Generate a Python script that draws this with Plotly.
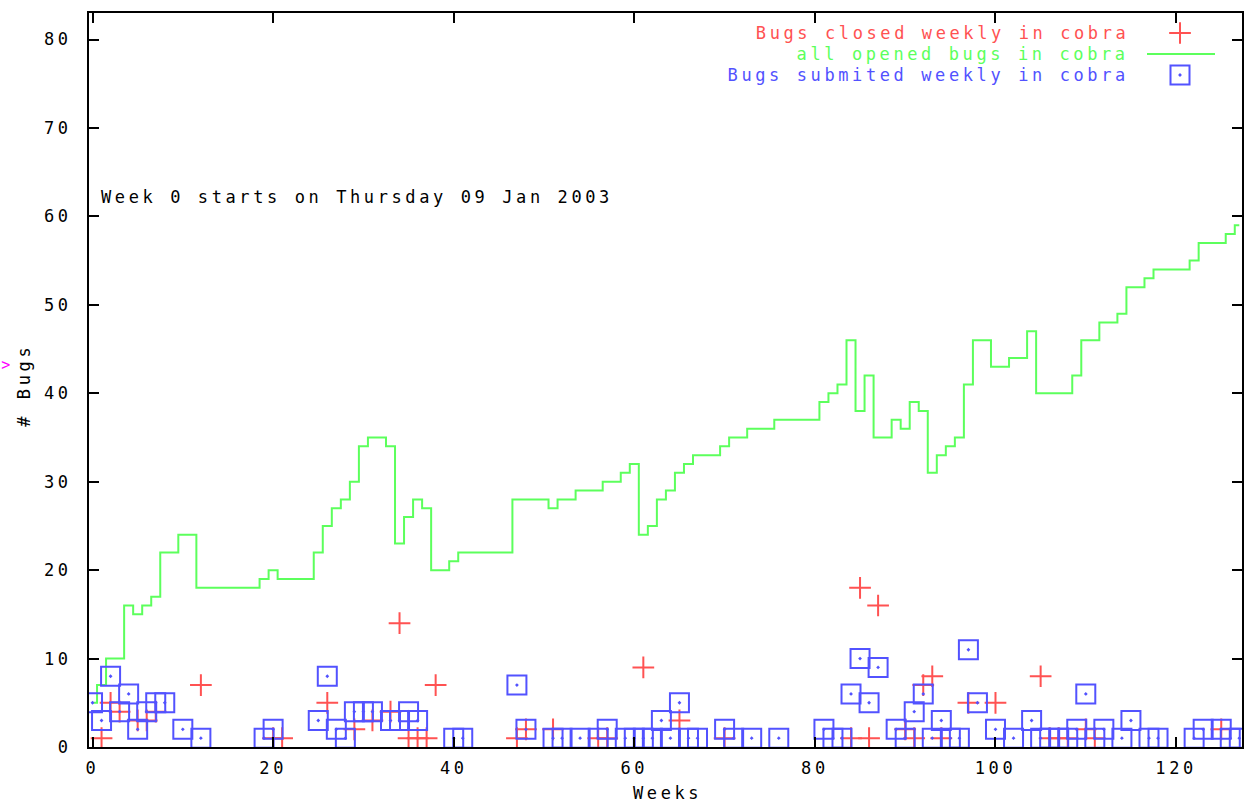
import plotly.graph_objects as go

# ---- data -------------------------------------------------------------
weeks = list(range(128))

# total number of open bugs at the end of each week
opened_bugs = [
    5, 7, 10, 10, 16, 15, 16, 17, 22, 22,
    24, 24, 18, 18, 18, 18, 18, 18, 18, 19,
    20, 19, 19, 19, 19, 22, 25, 27, 28, 30,
    34, 35, 35, 34, 23, 26, 28, 27, 20, 20,
    21, 22, 22, 22, 22, 22, 22, 28, 28, 28,
    28, 27, 28, 28, 29, 29, 29, 30, 30, 31,
    32, 24, 25, 28, 29, 31, 32, 33, 33, 33,
    34, 35, 35, 36, 36, 36, 37, 37, 37, 37,
    37, 39, 40, 41, 46, 38, 42, 35, 35, 37,
    36, 39, 38, 31, 33, 34, 35, 41, 46, 46,
    43, 43, 44, 44, 47, 40, 40, 40, 40, 42,
    46, 46, 48, 48, 49, 52, 52, 53, 54, 54,
    54, 54, 55, 57, 57, 57, 58, 59,
]

# weeks in which bugs were closed, and how many
closed_weeks = [1, 2, 3, 5, 6, 7, 12, 20, 21, 26, 29, 31, 33, 34, 35, 36, 37, 38,
                47, 48, 51, 56, 57, 61, 65, 70, 84, 85, 86, 87, 90, 91, 92, 93,
                94, 97, 100, 105, 106, 107, 108, 110, 111, 125]
closed_counts = [1, 5, 4, 3, 3, 4, 7, 1, 1, 5, 2, 3, 4, 14, 1, 1, 1, 7,
                 1, 2, 2, 1, 1, 9, 3, 1, 1, 18, 1, 16, 2, 1, 7, 8,
                 1, 5, 5, 8, 1, 1, 1, 2, 1, 2]

# weeks in which bugs were submitted, and how many
submitted_weeks = [0, 1, 2, 3, 4, 5, 6, 7, 8, 10, 12, 19, 20, 25, 26, 27, 28, 29,
                   30, 31, 33, 34, 35, 36, 40, 41, 47, 48, 51, 52, 54, 56, 57, 59,
                   60, 61, 62, 63, 64, 65, 66, 67, 70, 71, 73, 76, 81, 82, 83, 84,
                   85, 86, 87, 89, 90, 91, 92, 93, 94, 95, 96, 97, 98, 100, 102,
                   104, 105, 106, 107, 108, 109, 110, 111, 112, 114, 115, 117, 118,
                   122, 123, 125, 126, 127]
submitted_counts = [5, 3, 8, 4, 6, 2, 4, 5, 5, 2, 1, 1, 2, 3, 8, 2, 1, 4,
                    4, 4, 3, 3, 4, 3, 1, 1, 7, 2, 1, 1, 1, 1, 2, 1,
                    1, 1, 1, 3, 1, 5, 1, 1, 2, 1, 1, 1, 2, 1, 1, 6,
                    10, 5, 9, 2, 1, 4, 6, 1, 3, 1, 1, 11, 5, 2, 1,
                    3, 1, 1, 1, 1, 2, 6, 1, 2, 1, 3, 1, 1,
                    1, 2, 2, 1, 1]

x_ticks = [0, 20, 40, 60, 80, 100, 120]
y_ticks = [0, 10, 20, 30, 40, 50, 60, 70, 80]

series_labels = ["Bugs closed weekly in cobra",
                 "all opened bugs in cobra",
                 "Bugs submited weekly in cobra"]
note_text = "Week 0 starts on Thursday 09 Jan 2003"

# ---- style ------------------------------------------------------------
FONT = "DejaVu Sans Mono"
RED = "#ff5252"
GREEN = "#5cff5c"
BLUE = "#5252ff"

W, H = 1255, 803
ML, MR, MT, MB = 89, 13, 13, 56
PW, PH = W - ML - MR, H - MT - MB


def px_to_paper(px, py):
    return (px - ML) / PW, (H - MB - py) / PH


fig = go.Figure()

fig.add_trace(go.Scatter(
    x=closed_weeks, y=closed_counts, mode="markers", name=series_labels[0],
    marker=dict(symbol="cross-thin-open", size=15.5, color=RED,
                line=dict(color=RED, width=2)),
))
fig.add_trace(go.Scatter(
    x=weeks, y=opened_bugs, mode="lines", name=series_labels[1],
    line=dict(color=GREEN, width=2, shape="hvh"),
))
fig.add_trace(go.Scatter(
    x=submitted_weeks, y=submitted_counts, mode="markers", name=series_labels[2],
    marker=dict(symbol="square-open-dot", size=19, color=BLUE,
                line=dict(color=BLUE, width=2)),
))

# ---- key in the top-right corner (text right-aligned, sample to the right)
key_rows_py = [33, 54, 75]
key_text_right = 1131
key_sample_x = 1180
key_colors = [RED, GREEN, BLUE]

for label, py, col in zip(series_labels, key_rows_py, key_colors):
    xp, yp = px_to_paper(key_text_right, py)
    fig.add_annotation(text=label, x=xp, y=yp, xref="paper", yref="paper",
                       xanchor="right", yanchor="middle", align="right",
                       showarrow=False, font=dict(family=FONT, size=17, color=col))

sx, sy0 = px_to_paper(key_sample_x, key_rows_py[0])
fig.add_trace(go.Scatter(
    x=[sx], y=[sy0], xaxis="x2", yaxis="y2", mode="markers", hoverinfo="skip",
    marker=dict(symbol="cross-thin-open", size=15.5, color=RED,
                line=dict(color=RED, width=2)),
))
lx0, sy1 = px_to_paper(1147, key_rows_py[1])
lx1, _ = px_to_paper(1215, key_rows_py[1])
fig.add_trace(go.Scatter(
    x=[lx0, lx1], y=[sy1, sy1], xaxis="x2", yaxis="y2", mode="lines",
    hoverinfo="skip", line=dict(color=GREEN, width=2),
))
_, sy2 = px_to_paper(key_sample_x, key_rows_py[2])
fig.add_trace(go.Scatter(
    x=[sx], y=[sy2], xaxis="x2", yaxis="y2", mode="markers", hoverinfo="skip",
    marker=dict(symbol="square-open-dot", size=19, color=BLUE,
                line=dict(color=BLUE, width=2)),
))

# ---- labels -----------------------------------------------------------
nx, ny = px_to_paper(99, 197)
fig.add_annotation(text=note_text, x=nx, y=ny, xref="paper", yref="paper",
                   xanchor="left", yanchor="middle", align="left",
                   showarrow=False, font=dict(family=FONT, size=17, color="black"))

tx, ty = px_to_paper(12, 386)
fig.add_annotation(text="# Bugs", x=tx, y=ty, xref="paper", yref="paper",
                   textangle=-90, showarrow=False,
                   font=dict(family=FONT, size=17, color="black"))

# small magenta pointer at the left edge
mx, my = px_to_paper(1, 365)
fig.add_annotation(text=">", x=mx, y=my, xref="paper", yref="paper",
                   xanchor="left", yanchor="middle", showarrow=False,
                   font=dict(family=FONT, size=15, color="#ff00ff"))

bx, by = px_to_paper(667, 793)
fig.add_annotation(text="Weeks", x=bx, y=by, xref="paper", yref="paper",
                   showarrow=False, yanchor="middle",
                   font=dict(family=FONT, size=17, color="black"))

axis_common = dict(
    ticks="inside", ticklen=10, tickwidth=2, tickcolor="black",
    showline=True, linewidth=2, linecolor="black", mirror="ticks",
    showgrid=False, zeroline=False,
    tickfont=dict(family=FONT, size=17, color="black"),
)

fig.update_layout(
    width=W, height=H,
    margin=dict(l=ML, r=MR, t=MT, b=MB, autoexpand=False),
    plot_bgcolor="white", paper_bgcolor="white",
    showlegend=False,
    font=dict(family=FONT, size=17, color="black"),
    xaxis=dict(range=[-0.39, 127.3], tickvals=x_ticks, ticklabelstandoff=5,
               **axis_common),
    yaxis=dict(range=[0, 83], tickvals=y_ticks, ticklabelstandoff=12,
               **axis_common),
    xaxis2=dict(overlaying="x", range=[0, 1], visible=False),
    yaxis2=dict(overlaying="y", range=[0, 1], visible=False),
)

# wide terminal-style lettering
spacing_js = """
var gd = document.getElementById('{plot_id}');
gd.querySelectorAll('text').forEach(function(t){ t.style.letterSpacing = '3.6px'; });
"""

fig.write_html("out.html", config={"displayModeBar": False}, post_script=spacing_js)
